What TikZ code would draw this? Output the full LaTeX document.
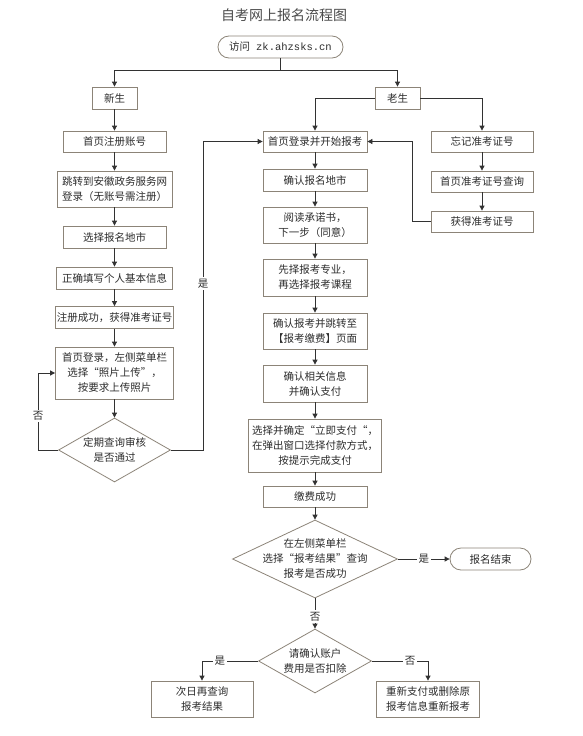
\documentclass[tikz,border=0pt]{standalone}
\usepackage{fontspec}
\setmainfont{Noto Sans CJK SC}
\newfontfamily\urlfont{Liberation Mono}
\usetikzlibrary{shapes.geometric,arrows.meta}
\definecolor{boxc}{RGB}{140,132,120}
\definecolor{linec}{RGB}{50,50,50}
\definecolor{txtc}{RGB}{45,45,45}
\tikzset{
  box/.style={draw=boxc, line width=0.8pt, fill=white, text=txtc, align=center, inner sep=1pt,
    font=\fontsize{10.5}{15}\selectfont},
  term/.style={box, rounded corners=11pt},
  dia/.style={diamond, draw=boxc, line width=0.8pt, fill=white, inner sep=0pt},
  dtext/.style={text=txtc, align=center, inner sep=0pt, font=\fontsize{10.5}{15}\selectfont},
  arr/.style={draw=linec, line width=0.8pt, -{Triangle[length=5pt,width=5pt]}},
  ln/.style={draw=linec, line width=0.8pt},
  lbl/.style={fill=white, text=txtc, inner sep=1.5pt, font=\fontsize{10.5}{12}\selectfont},
}
\begin{document}
\begin{tikzpicture}[x=1pt,y=-1pt]
\useasboundingbox[fill=white] (0,0) rectangle (582,736);
\node[text=black!70, font=\fontsize{14}{16}\selectfont] (title) at (284,15) {自考网上报名流程图};
\node[term, minimum width=125pt, minimum height=22pt] (start) at (280.5,47) {访问\hspace{6pt}{\urlfont zk.ahzsks.cn}};
% left column
\node[box, minimum width=45pt, minimum height=22pt] (xs) at (114.5,98) {新生};
\node[box, minimum width=45pt, minimum height=22pt] (ls) at (397.5,98) {老生};
\node[box, minimum width=103pt, minimum height=21pt] (zc) at (114.5,141.5) {首页注册账号};
\node[box, minimum width=115pt, minimum height=36pt] (tz) at (114.5,189) {跳转到安徽政务服务网\\登录（无账号需注册）};
\node[box, minimum width=103pt, minimum height=22pt] (xz) at (114.5,237) {选择报名地市};
\node[box, minimum width=116pt, minimum height=22pt] (tx) at (114.5,278) {正确填写个人基本信息};
\node[box, minimum width=116pt, minimum height=22pt] (cg) at (114.5,317.5) {注册成功，获得准考证号};
\node[box, minimum width=118pt, minimum height=52pt] (sc) at (114.5,373) {首页登录，左侧菜单栏\\选择“照片上传”，\\按要求上传照片};
\node[dia, minimum width=112pt, minimum height=64pt, label={[dtext]center:{定期查询审核\\是否通过}}] (dq) at (114.5,450) {};
% middle column
\node[box, minimum width=104pt, minimum height=21pt] (dl) at (315,141.5) {首页登录并开始报考};
\node[box, minimum width=104pt, minimum height=22pt] (qr) at (315,180) {确认报名地市};
\node[box, minimum width=104pt, minimum height=36pt] (yd) at (315,225) {阅读承诺书，\\下一步（同意）};
\node[box, minimum width=104pt, minimum height=37pt] (xbk) at (315,277.5) {先择报考专业，\\再选择报考课程};
\node[box, minimum width=104pt, minimum height=36pt] (qrbk) at (315,331) {确认报考并跳转至\\【报考缴费】页面};
\node[box, minimum width=104pt, minimum height=37pt] (qrxx) at (315,383.5) {确认相关信息\\并确认支付};
\node[box, minimum width=133pt, minimum height=53pt] (xzqd) at (315,445.5) {选择并确定“立即支付“，\\在弹出窗口选择付款方式，\\按提示完成支付};
\node[box, minimum width=104pt, minimum height=21pt] (jf) at (315,496.5) {缴费成功};
\node[dia, minimum width=165pt, minimum height=78pt, label={[dtext]center:{在左侧菜单栏\\选择“报考结果”查询\\报考是否成功}}] (d1) at (315,559) {};
\node[term, minimum width=81pt, minimum height=22pt] (end) at (490.5,559) {报名结束};
\node[dia, minimum width=113pt, minimum height=64pt, label={[dtext]center:{请确认账户\\费用是否扣除}}] (d2) at (315,661) {};
\node[box, minimum width=102pt, minimum height=36pt] (cr) at (202,699) {次日再查询\\报考结果};
\node[box, minimum width=103pt, minimum height=36pt] (cx) at (428,699) {重新支付或删除原\\报考信息重新报考};
% right column
\node[box, minimum width=102pt, minimum height=21pt] (wj) at (482,141.5) {忘记准考证号};
\node[box, minimum width=102pt, minimum height=21pt] (cxz) at (482,181.5) {首页准考证号查询};
\node[box, minimum width=102pt, minimum height=21pt] (hd) at (482,221.5) {获得准考证号};
% coordinates
\coordinate (sp) at (280.5,70);
\coordinate (lft) at (38,450);
\coordinate (rgt) at (203,450);
\coordinate (rl) at (412,221.5);
% connectors
\draw[ln] (start.south) -- (sp);
\draw[arr] (sp) -| (xs.north);
\draw[arr] (sp) -| (ls.north);
\draw[arr] (ls.west) -| (dl.north);
\draw[arr] (ls.east) -| (wj.north);
\draw[arr] (xs) -- (zc);
\draw[arr] (zc) -- (tz);
\draw[arr] (tz) -- (xz);
\draw[arr] (xz) -- (tx);
\draw[arr] (tx) -- (cg);
\draw[arr] (cg) -- (sc);
\draw[arr] (sc) -- (dq);
\draw[arr] (dq.west) -- (lft) -- node[lbl, pos=0.44]{否} (lft |- sc.west) -- (sc.west);
\draw[arr] (dq.east) -- (rgt) -- node[lbl, pos=0.54]{是} (rgt |- dl.west) -- (dl.west);
\draw[arr] (dl) -- (qr);
\draw[arr] (qr) -- (yd);
\draw[arr] (yd) -- (xbk);
\draw[arr] (xbk) -- (qrbk);
\draw[arr] (qrbk) -- (qrxx);
\draw[arr] (qrxx) -- (xzqd);
\draw[arr] (xzqd) -- (jf);
\draw[arr] (jf) -- (d1.north);
\draw[arr] (wj) -- (cxz);
\draw[arr] (cxz) -- (hd);
\draw[arr] (hd.west) -- (rl) -- (rl |- dl.east) -- (dl.east);
\draw[arr] (d1.east) -- node[lbl]{是} (end.west);
\draw[arr] (d1.south) -- node[lbl, pos=0.6]{否} (d2.north);
\draw[arr] (d2.west) -- node[lbl, pos=0.68]{是} (d2.west -| cr.north) -- (cr.north);
\draw[arr] (d2.east) -- node[lbl, pos=0.68]{否} (d2.east -| cx.north) -- (cx.north);
\end{tikzpicture}
\end{document}
